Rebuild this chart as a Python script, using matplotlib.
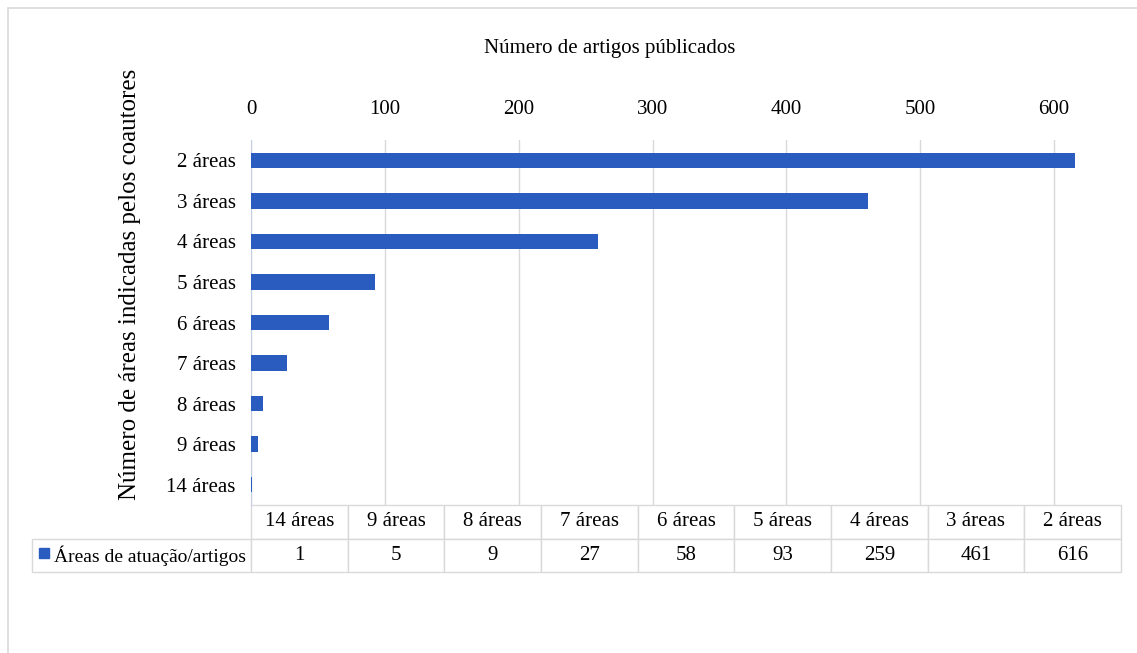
import matplotlib.pyplot as plt
from matplotlib.patches import Rectangle
from matplotlib.table import Table

# dados (categorias de baixo para cima, como no Excel)
categorias = ["14 áreas", "9 áreas", "8 áreas", "7 áreas", "6 áreas",
              "5 áreas", "4 áreas", "3 áreas", "2 áreas"]
artigos = [1, 5, 9, 27, 58, 93, 259, 461, 616]
ticks_x = [0, 100, 200, 300, 400, 500, 600]
serie = "Áreas de atuação/artigos"
titulo = "Número de artigos públicados"
rotulo_y = "Número de áreas indicadas pelos coautores"

AZUL = "#2A5BBE"
CINZA = "#D9D9D9"

plt.rcParams["font.family"] = ["Liberation Serif", "DejaVu Serif"]

fig = plt.figure(figsize=(11.37, 6.53), dpi=100)
ax = fig.add_axes([251 / 1137, 1 - 505 / 653, 870 / 1137, 365 / 653])

pos = list(range(len(categorias)))
ax.barh(pos, artigos, height=0.38, color=AZUL, zorder=3)
ax.set_ylim(-0.5, len(categorias) - 0.5)
ax.set_xlim(0, 650)
ax.set_xticks(ticks_x)
ax.xaxis.tick_top()
ax.tick_params(axis="x", length=0, pad=15, labelsize=15)
ax.set_yticks(pos)
ax.set_yticklabels(categorias)
ax.tick_params(axis="y", length=0, pad=11, labelsize=15)
ax.grid(axis="x", color=CINZA, lw=1)
ax.set_axisbelow(True)
for s in ["top", "right", "bottom"]:
    ax.spines[s].set_visible(False)
ax.spines["left"].set_color("#C5CFE3")

# tabela de dados embaixo do grafico
rl_w = 219 / 870
h_tab = 67 / 365
n = len(categorias)
tab = Table(ax, bbox=[0, -h_tab, 1, h_tab])
for j, cat in enumerate(categorias):
    tab.add_cell(0, j, width=1 / n, height=0.5, text=cat, loc="center")
rot = tab.add_cell(1, -1, width=rl_w, height=0.5, text=serie, loc="left")
for j, v in enumerate(artigos):
    tab.add_cell(1, j, width=1 / n, height=0.5, text=str(v), loc="center")
tab.auto_set_font_size(False)
tab.set_fontsize(15)
for cell in tab.get_celld().values():
    cell.set_edgecolor(CINZA)
    cell.set_linewidth(1)
rot.get_text().set_fontsize(14)
ax.add_table(tab)

# marcador da legenda na tabela
ax.add_patch(Rectangle((-212 / 870, -53 / 365), 10 / 870, 10 / 365,
                       transform=ax.transAxes, clip_on=False, color=AZUL))

fig.text(610 / 1137, 1 - 48 / 653, titulo, ha="center", va="center", fontsize=15)
fig.text(130 / 1137, 1 - 284 / 653, rotulo_y, ha="center", va="center",
         rotation=90, fontsize=18)

# moldura
fig.add_artist(Rectangle((8 / 1137, -0.1), 1.2, 1 - 8 / 653 + 0.1,
                         transform=fig.transFigure, fill=False, ec=CINZA, lw=1.2))

fig.savefig("out.png", dpi=100)
